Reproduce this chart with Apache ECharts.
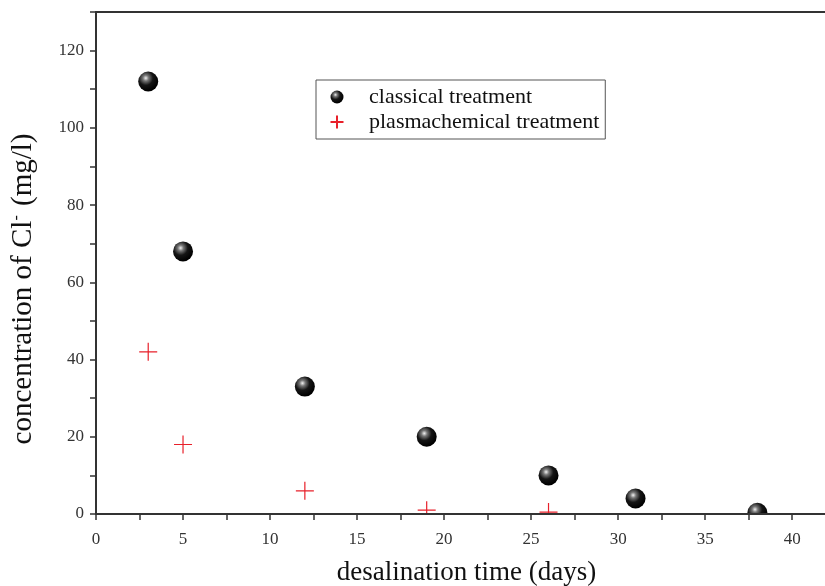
<!DOCTYPE html>
<html>
<head>
<meta charset="utf-8">
<script src="https://cdn.jsdelivr.net/npm/echarts@6/dist/echarts.min.js"></script>
<style>
  html, body { margin: 0; padding: 0; background: #fff; }
  #chart { width: 825px; height: 586px; }
</style>
</head>
<body>
<div id="chart"></div>
<script>
// desalination time (days) vs concentration of Cl- (mg/l)
var classicalDays = [3, 5, 12, 19, 26, 31, 38];
var classicalConc = [112, 68, 33, 20, 10, 4, 0.3];
var plasmaDays = [3, 5, 12, 19, 26];
var plasmaConc = [42, 18, 6, 1, 0.5];

function pairs(xs, ys) {
  var out = [];
  for (var i = 0; i < xs.length; i++) out.push([xs[i], ys[i]]);
  return out;
}

var serif = '"Liberation Serif", "DejaVu Serif", serif';
var chart = echarts.init(document.getElementById('chart'));

var sphere = {
  type: 'radial', x: 0.38, y: 0.33, r: 0.65,
  colorStops: [
    { offset: 0, color: '#f2f2f2' },
    { offset: 0.22, color: '#777' },
    { offset: 0.55, color: '#151515' },
    { offset: 1, color: '#000' }
  ]
};

var tickStyle = { color: '#333', width: 1.5 };

var option = {
  backgroundColor: '#fff',
  animation: false,
  grid: { left: 96, top: 12, right: -2, bottom: 72, containLabel: false, outerBoundsMode: 'none' },
  legend: {
    left: 316, top: 80,
    orient: 'vertical',
    itemGap: 3,
    itemWidth: 30, itemHeight: 13,
    padding: [6, 6, 6, 12],
    borderColor: '#555', borderWidth: 1,
    textStyle: { fontFamily: serif, fontSize: 22, color: '#111', padding: [0, 0, 0, 12] },
    data: [
      { name: 'classical treatment' },
      { name: 'plasmachemical treatment' }
    ]
  },
  graphic: [{
    // covers the part of the markers that falls below the x axis
    type: 'rect', left: 97, top: 515, z: 3,
    shape: { width: 728, height: 71 },
    style: { fill: '#fff' }
  }],
  xAxis: [{
    type: 'value', min: 0, max: 42, interval: 5, z: 10,
    name: 'desalination time (days)',
    nameLocation: 'middle', nameGap: 45,
    nameTextStyle: { fontFamily: serif, fontSize: 27, color: '#111', padding: [0, 0, 0, 10] },
    axisLine: { lineStyle: { color: '#333', width: 2 } },
    axisTick: { length: 6, lineStyle: tickStyle },
    minorTick: { show: true, splitNumber: 2, length: 6, lineStyle: tickStyle },
    axisLabel: { fontFamily: serif, fontSize: 17, color: '#333', margin: 17, showMaxLabel: false },
    splitLine: { show: false }
  }, {
    type: 'value', position: 'top', min: 0, max: 42,
    axisLine: { show: true, lineStyle: { color: '#333', width: 2 } },
    axisTick: { show: false }, axisLabel: { show: false }, splitLine: { show: false }
  }],
  yAxis: {
    type: 'value', min: 0, max: 130, interval: 20, z: 10,
    name: 'concentration of Cl{sup|-} (mg/l)',
    nameLocation: 'middle', nameGap: 58,
    nameTextStyle: {
      fontFamily: serif, fontSize: 29, color: '#111', padding: [0, 52, 0, 0],
      rich: { sup: { fontFamily: serif, fontSize: 16, color: '#111', verticalAlign: 'top', padding: [0, 2, 12, 0] } }
    },
    axisLine: { show: true, lineStyle: { color: '#333', width: 2 } },
    axisTick: { show: true, length: 6, lineStyle: tickStyle },
    minorTick: { show: true, splitNumber: 2, length: 6, lineStyle: tickStyle },
    axisLabel: { fontFamily: serif, fontSize: 17, color: '#333', margin: 12, showMaxLabel: false },
    splitLine: { show: false }
  },
  series: [{
    name: 'classical treatment',
    type: 'scatter',
    symbol: 'circle',
    symbolSize: 20,
    clip: true,
    itemStyle: { color: sphere, opacity: 1 },
    data: pairs(classicalDays, classicalConc)
  }, {
    name: 'plasmachemical treatment',
    type: 'scatter',
    symbol: 'path://M0,-10L0,10M-10,0L10,0',
    symbolSize: 18,
    clip: true,
    itemStyle: { color: 'none', borderColor: '#e8202a', borderWidth: 1.2, opacity: 1 },
    data: pairs(plasmaDays, plasmaConc)
  }]
};

chart.setOption(option);
</script>
</body>
</html>
